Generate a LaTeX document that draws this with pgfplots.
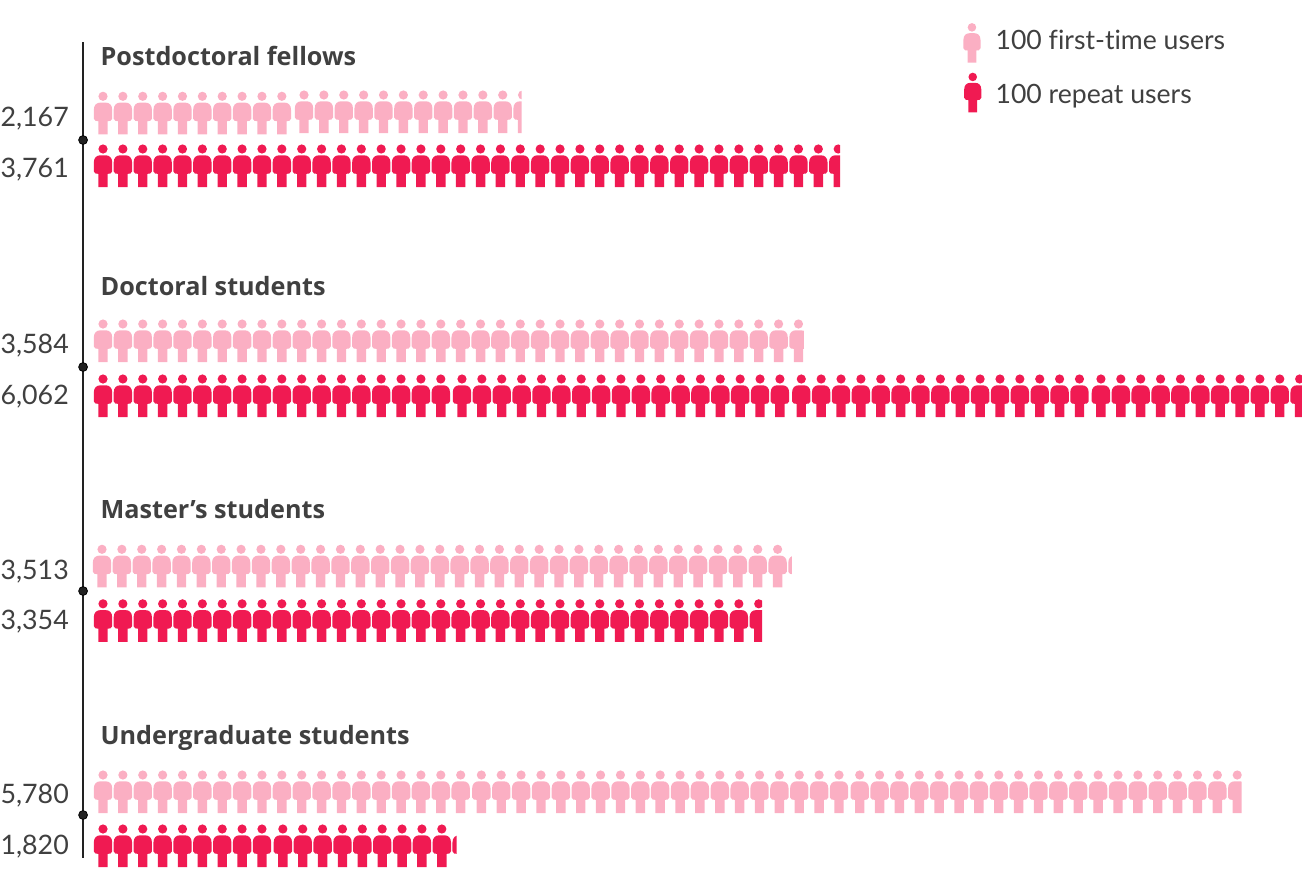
\documentclass[border=0pt]{standalone}
\usepackage{fontspec}
\setmainfont[Ligatures=NoCommon]{Lato}
\newfontfamily\ttlfont{Open Sans}
\usepackage{pgfplots}
\pgfplotsset{compat=1.18}
\definecolor{pinkp}{HTML}{FBAFC3}
\definecolor{redp}{HTML}{F01A52}
\definecolor{txt}{HTML}{404040}
\definecolor{axl}{HTML}{222222}
\newcommand{\PP}[2]{\pgfqpoint{#1pt}{#2pt}}
\newcommand{\personpath}{%
  \pgfpathcircle{\PP{0}{38}}{4.6pt}%
  \pgfpathmoveto{\PP{-4.7}{0}}%
  \pgfpathlineto{\PP{-4.7}{13.2}}%
  \pgfpathlineto{\PP{-7.4}{13.4}}%
  \pgfpathcurveto{\PP{-8.6}{13.6}}{\PP{-9.2}{14.4}}{\PP{-9.2}{15.6}}%
  \pgfpathlineto{\PP{-9.2}{24.5}}%
  \pgfpathcurveto{\PP{-9.2}{29.5}}{\PP{-6.2}{31.7}}{\PP{-2.6}{31.7}}%
  \pgfpathlineto{\PP{2.6}{31.7}}%
  \pgfpathcurveto{\PP{6.2}{31.7}}{\PP{9.2}{29.5}}{\PP{9.2}{24.5}}%
  \pgfpathlineto{\PP{9.2}{15.6}}%
  \pgfpathcurveto{\PP{9.2}{14.4}}{\PP{8.6}{13.6}}{\PP{7.4}{13.4}}%
  \pgfpathlineto{\PP{4.7}{13.2}}%
  \pgfpathlineto{\PP{4.7}{0}}%
  \pgfpathclose
  \pgfusepathqfill}
\pgfdeclareplotmark{person}{\pgftransformscale{0.5}\personpath}
\newcommand{\partialperson}[2]{%
  \pgfdeclareplotmark{#1}{\pgftransformscale{0.5}%
    \begin{pgfscope}%
    \pgfpathrectanglecorners{\PP{-12}{-2}}{\PP{#2}{46}}\pgfusepathqclip
    \personpath
    \end{pgfscope}}}
\partialperson{pA}{-0.9}
\partialperson{pB}{1.9}
\partialperson{pC}{5.5}
\partialperson{pD}{-5.5}
\partialperson{pE}{3.3}
\partialperson{pF}{4.5}
\partialperson{pG}{-5}
\pgfplotsset{
  pk/.style={only marks,mark=person,mark options={fill=pinkp,draw=none,solid}},
  rd/.style={only marks,mark=person,mark options={fill=redp,draw=none,solid}},
}
\newcommand{\val}[2]{\node[anchor=east,text=txt,inner sep=0pt,font=\fontsize{13.4}{15}\selectfont] at (axis cs:-120,#1) {#2};}
\newcommand{\ttl}[2]{\node[anchor=west,text=txt,inner sep=0pt,font=\fontsize{12.6}{15}\ttlfont\bfseries] at (axis cs:36,#1) {#2};}
\begin{document}
\begin{tikzpicture}
\begin{axis}[name=ax,hide axis,scale only axis,width=651pt,height=434.5pt,
  xmin=-468.4,xmax=6084,ymin=0,ymax=869,y dir=reverse]
% vertical line and dots
\addplot[axl,line width=0.6pt,no marks] coordinates {(-50.3,42) (-50.3,858)};
\addplot[only marks,mark=*,mark size=2.2pt,mark options={fill=axl,draw=none}] coordinates {(-50.3,140) (-50.3,367) (-50.3,591) (-50.3,815)};
% Postdoctoral fellows, first-time 2167
\addplot[pk] coordinates {(50,134.3)(150,134.3)(250,134.3)(350,134.3)(450,134.3)(550,134.3)(650,134.3)(750,134.3)(850,134.3)(950,134.3)};
\addplot[pk,mark options={fill=pinkp,draw=none,xshift=1.15pt}] coordinates {(1050,133)(1150,133)(1250,133)(1350,133)(1450,133)(1550,133)(1650,133)(1750,133)(1850,133)(1950,133)(2050,133)};
\addplot[only marks,mark=pA,mark options={fill=pinkp,draw=none,xshift=1.15pt}] coordinates {(2150,133)};
% repeat 3761
\addplot[rd] coordinates {(50,187)(150,187)(250,187)(350,187)(450,187)(550,187)(650,187)(750,187)(850,187)(950,187)(1050,187)(1150,187)(1250,187)(1350,187)(1450,187)(1550,187)(1650,187)(1750,187)(1850,187)(1950,187)(2050,187)(2150,187)(2250,187)(2350,187)(2450,187)(2550,187)(2650,187)(2750,187)(2850,187)(2950,187)(3050,187)(3150,187)(3250,187)(3350,187)(3450,187)(3550,187)(3650,187)};
\addplot[only marks,mark=pB,mark options={fill=redp,draw=none}] coordinates {(3750,187)};
% Doctoral students, first-time 3584
\addplot[pk] coordinates {(50,362)(150,362)(250,362)(350,362)(450,362)(550,362)(650,362)(750,362)(850,362)(950,362)(1050,362)(1150,362)(1250,362)(1350,362)(1450,362)(1550,362)(1650,362)(1750,362)(1850,362)(1950,362)(2050,362)(2150,362)(2250,362)(2350,362)(2450,362)(2550,362)(2650,362)(2750,362)(2850,362)(2950,362)(3050,362)(3150,362)(3250,362)(3350,362)(3450,362)};
\addplot[only marks,mark=pC,mark options={fill=pinkp,draw=none}] coordinates {(3550,362)};
% repeat 6062
\addplot[rd] coordinates {(50,417)(150,417)(250,417)(350,417)(450,417)(550,417)(650,417)(750,417)(850,417)(950,417)(1050,417)(1150,417)(1250,417)(1350,417)(1450,417)(1550,417)(1650,417)(1750,417)};
\addplot[rd,mark options={fill=redp,draw=none,xshift=0.65pt}] coordinates {(1850,417)(1950,417)(2050,417)(2150,417)(2250,417)(2350,417)(2450,417)(2550,417)(2650,417)(2750,417)(2850,417)(2950,417)(3050,417)(3150,417)(3250,417)(3350,417)(3450,417)};
\addplot[rd,mark options={fill=redp,draw=none,xshift=1.4pt}] coordinates {(3550,417)(3650,417)(3750,417)(3850,417)(3950,417)(4050,417)(4150,417)(4250,417)(4350,417)(4450,417)(4550,417)(4650,417)(4750,417)(4850,417)(4950,417)};
\addplot[rd,mark options={fill=redp,draw=none,xshift=2.2pt}] coordinates {(5050,417)(5150,417)(5250,417)(5350,417)(5450,417)(5550,417)(5650,417)(5750,417)(5850,417)(5950,417)(6050,417)};
% Master's students, first-time 3513
\addplot[pk,mark options={fill=pinkp,draw=none,xshift=-0.5pt}] coordinates {(50,587.3)(150,587.3)(250,587.3)(350,587.3)(450,587.3)(550,587.3)(650,587.3)(750,587.3)(850,587.3)(950,587.3)(1050,587.3)(1150,587.3)(1250,587.3)(1350,587.3)(1450,587.3)(1550,587.3)(1650,587.3)(1750,587.3)(1850,587.3)(1950,587.3)(2050,587.3)(2150,587.3)(2250,587.3)(2350,587.3)(2450,587.3)(2550,587.3)(2650,587.3)(2750,587.3)(2850,587.3)(2950,587.3)(3050,587.3)(3150,587.3)(3250,587.3)(3350,587.3)(3450,587.3)};
\addplot[only marks,mark=pD,mark options={fill=pinkp,draw=none,xshift=-0.5pt}] coordinates {(3550,587.3)};
% repeat 3354
\addplot[rd] coordinates {(50,641.8)(150,641.8)(250,641.8)(350,641.8)(450,641.8)(550,641.8)(650,641.8)(750,641.8)(850,641.8)(950,641.8)(1050,641.8)(1150,641.8)(1250,641.8)(1350,641.8)(1450,641.8)(1550,641.8)(1650,641.8)(1750,641.8)(1850,641.8)(1950,641.8)(2050,641.8)(2150,641.8)(2250,641.8)(2350,641.8)(2450,641.8)(2550,641.8)(2650,641.8)(2750,641.8)(2850,641.8)(2950,641.8)(3050,641.8)(3150,641.8)(3250,641.8)};
\addplot[only marks,mark=pE,mark options={fill=redp,draw=none}] coordinates {(3350,641.8)};
% Undergraduate students, first-time 5780
\addplot[pk] coordinates {(50,813)(150,813)(250,813)(350,813)(450,813)(550,813)(650,813)(750,813)(850,813)(950,813)(1050,813)(1150,813)(1250,813)(1350,813)(1450,813)(1550,813)(1650,813)(1750,813)(1850,813)};
\addplot[pk,mark options={fill=pinkp,draw=none,xshift=0.4pt}] coordinates {(1950,813)(2050,813)(2150,813)(2250,813)(2350,813)(2450,813)(2550,813)(2650,813)(2750,813)(2850,813)(2950,813)(3050,813)(3150,813)(3250,813)(3350,813)(3450,813)(3550,813)(3650,813)(3750,813)};
\addplot[pk,mark options={fill=pinkp,draw=none,xshift=0.8pt}] coordinates {(3850,813)(3950,813)(4050,813)(4150,813)(4250,813)(4350,813)(4450,813)(4550,813)(4650,813)(4750,813)(4850,813)(4950,813)(5050,813)(5150,813)(5250,813)(5350,813)(5450,813)(5550,813)(5650,813)};
\addplot[only marks,mark=pF,mark options={fill=pinkp,draw=none,xshift=0.8pt}] coordinates {(5750,813)};
% repeat 1820
\addplot[rd] coordinates {(50,867)(150,867)(250,867)(350,867)(450,867)(550,867)(650,867)(750,867)(850,867)};
\addplot[rd,mark options={fill=redp,draw=none,xshift=0.5pt}] coordinates {(950,867)(1050,867)(1150,867)(1250,867)(1350,867)(1450,867)(1550,867)(1650,867)(1750,867)};
\addplot[only marks,mark=pG,mark options={fill=redp,draw=none,xshift=0.5pt}] coordinates {(1850,867)};
% legend symbols
\addplot[only marks,mark=person,mark options={fill=pinkp,draw=none,scale=0.93}] coordinates {(4423,62.7)};
\addplot[only marks,mark=person,mark options={fill=redp,draw=none,scale=0.93}] coordinates {(4427,112.3)};
% texts
\ttl{56}{Postdoctoral fellows}
\ttl{286}{Doctoral students}
\ttl{509}{Master’s students}
\ttl{738}{Undergraduate students}
\val{119}{2,167}\val{170}{3,761}
\val{346}{3,584}\val{397}{6,062}
\val{572}{3,513}\val{622}{3,354}
\val{796}{5,780}\val{847}{1,820}
\node[anchor=west,text=txt,inner sep=0pt,font=\fontsize{13.3}{15}\selectfont] at (axis cs:4540,40) {100 first-time users};
\node[anchor=west,text=txt,inner sep=0pt,font=\fontsize{13.3}{15}\selectfont] at (axis cs:4540,96) {100 repeat users};
\end{axis}
\pgfresetboundingbox
\path[use as bounding box] (ax.south west) rectangle (ax.north east);
\end{tikzpicture}
\end{document}
